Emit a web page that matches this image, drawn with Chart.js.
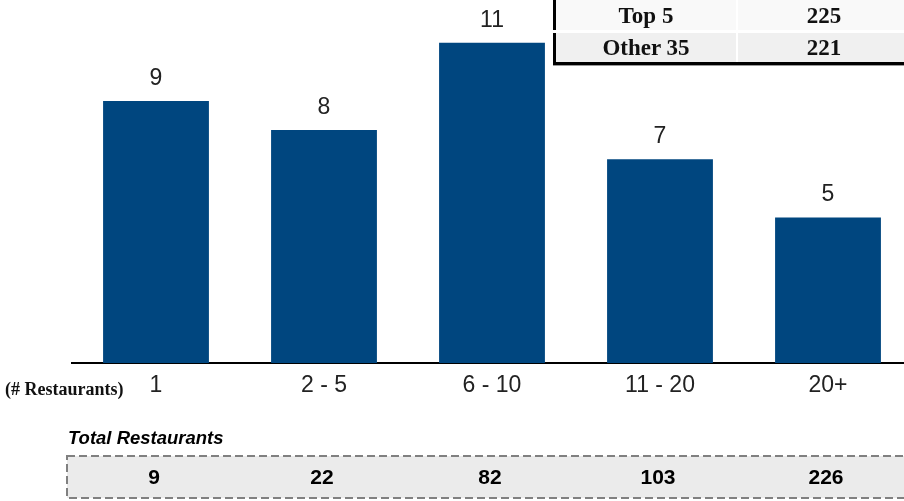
<!DOCTYPE html>
<html>
<head>
<meta charset="utf-8">
<script src="https://cdn.jsdelivr.net/npm/chart.js@4/dist/chart.umd.min.js"></script>
<style>
  html, body { margin: 0; padding: 0; background: #fff; overflow: hidden; width: 904px; height: 501px; }
  .wrap { position: relative; width: 904px; height: 501px; overflow: hidden; }
  #restaurantChart { position: absolute; left: 0; top: 0; }
  .share-table { position: absolute; left: 553px; top: 0; width: 357px; border-collapse: collapse;
    border-left: 3px solid #000; border-bottom: 3px solid #000; box-shadow: 0 1px 0 #999;
    font-family: "Liberation Serif", "Times New Roman", serif; font-weight: bold; font-size: 23px; color: #111; }
  .share-table td { text-align: center; padding: 0; line-height: 1; }
  .share-table td + td { border-left: 2px solid #fff; }
  .share-table tr.r1 td { background: #f9f9f9; height: 30px; border-bottom: 3px solid #fff; }
  .share-table tr.r2 td { background: #f0f0f0; height: 29px; }
  .unit-label { position: absolute; left: 5px; top: 379px; font-family: "Liberation Serif", serif;
    font-weight: bold; font-size: 18px; color: #111; }
  .totals-title { position: absolute; left: 68px; top: 427px; font-family: "Liberation Sans", Arial, sans-serif;
    font-weight: bold; font-style: italic; font-size: 18.5px; color: #000; }
</style>
</head>
<body>
<div class="wrap">
  <canvas id="restaurantChart" width="912" height="501"></canvas>
  <table class="share-table" id="shareTable"></table>
  <div class="unit-label">(# Restaurants)</div>
  <div class="totals-title">Total Restaurants</div>
</div>
<script>
const categories = ['1', '2 - 5', '6 - 10', '11 - 20', '20+'];
const chainCounts = [9, 8, 11, 7, 5];
const totalRestaurants = [9, 22, 82, 103, 226];
const shareLabels = ['Top 5', 'Other 35'];
const shareValues = [225, 221];

// small table top right
const table = document.getElementById('shareTable');
shareLabels.forEach((label, i) => {
  const tr = document.createElement('tr');
  tr.className = 'r' + (i + 1);
  tr.innerHTML = '<td style="width:180px">' + label + '</td><td>' + shareValues[i] + '</td>';
  table.appendChild(tr);
});

const barLabels = {
  id: 'barLabels',
  afterDatasetsDraw(chart) {
    const ctx = chart.ctx;
    const meta = chart.getDatasetMeta(0);
    ctx.save();
    ctx.font = '23px "Liberation Sans", Arial, sans-serif';
    ctx.fillStyle = '#222';
    ctx.textAlign = 'center';
    ctx.textBaseline = 'alphabetic';
    meta.data.forEach((bar, i) => {
      ctx.fillText(chainCounts[i], bar.x, bar.y - 16);
    });
    ctx.restore();
  }
};

const totalsStrip = {
  id: 'totalsStrip',
  afterDraw(chart) {
    const ctx = chart.ctx;
    const x = chart.scales.x;
    ctx.save();
    ctx.fillStyle = '#ebebeb';
    ctx.fillRect(67, 456, 860, 42);
    ctx.setLineDash([8, 4]);
    ctx.strokeStyle = '#808080';
    ctx.lineWidth = 2;
    ctx.strokeRect(67, 456, 860, 42);
    ctx.setLineDash([]);
    ctx.font = 'bold 21px "Liberation Sans Narrow", "Liberation Sans", Arial, sans-serif';
    ctx.fillStyle = '#000';
    ctx.textAlign = 'center';
    ctx.textBaseline = 'middle';
    totalRestaurants.forEach((v, i) => {
      ctx.fillText(v, x.getPixelForValue(i) - 2, 478);
    });
    ctx.restore();
  }
};

const ctx = document.getElementById('restaurantChart').getContext('2d');
new Chart(ctx, {
  type: 'bar',
  data: {
    labels: categories,
    datasets: [{
      data: chainCounts,
      backgroundColor: '#00467f',
      borderWidth: 0,
      categoryPercentage: 1,
      barPercentage: 0.63
    }]
  },
  options: {
    responsive: false,
    animation: false,
    layout: { padding: { left: 72, right: 0, top: 0, bottom: 0 } },
    plugins: { legend: { display: false }, tooltip: { enabled: false } },
    scales: {
      x: {
        grid: { display: false, drawTicks: false },
        border: { display: true, color: '#000', width: 2 },
        ticks: {
          color: '#222',
          padding: 9,
          font: { family: '"Liberation Sans", Arial, sans-serif', size: 23 }
        },
        afterFit(scale) { scale.height = 138; }
      },
      y: {
        display: false,
        min: 0,
        max: 12.47
      }
    }
  },
  plugins: [barLabels, totalsStrip]
});
</script>
</body>
</html>
